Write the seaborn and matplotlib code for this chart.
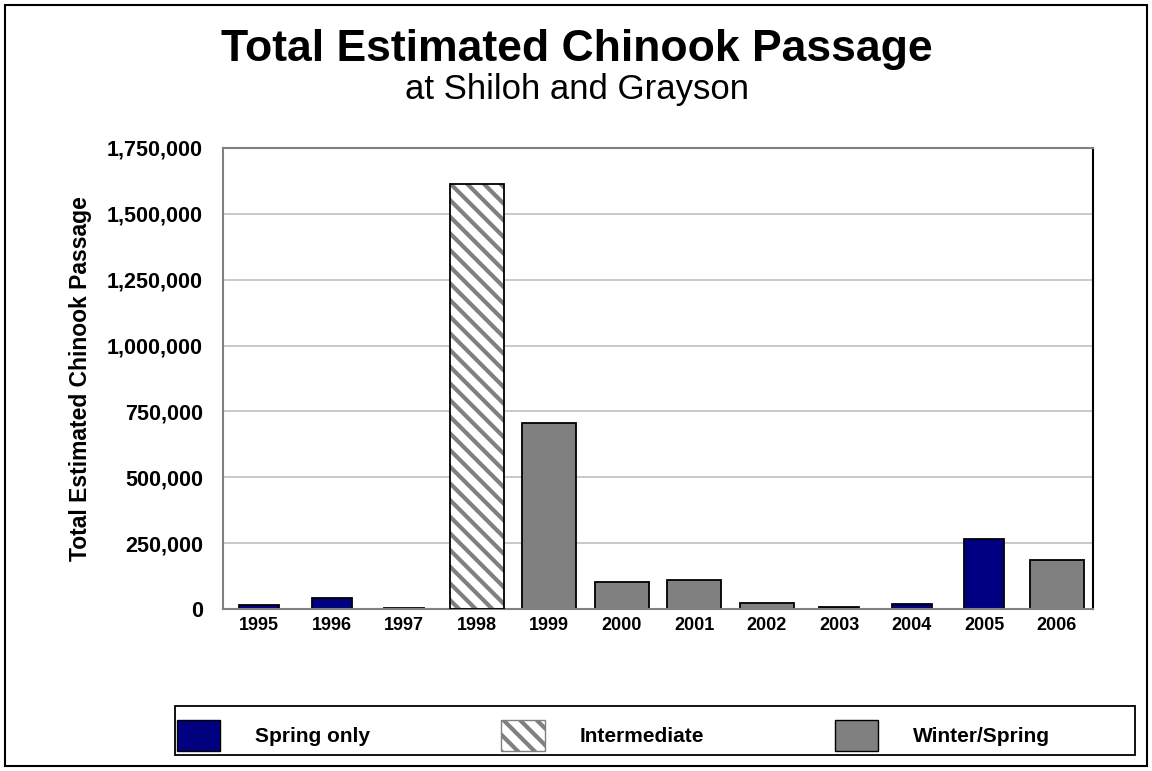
import matplotlib
matplotlib.use("Agg")
import matplotlib.pyplot as plt
import numpy as np
import pandas as pd
import seaborn as sns
from matplotlib.patches import Patch, Rectangle
from matplotlib.ticker import FuncFormatter, MultipleLocator

# Data
years = ["1995", "1996", "1997", "1998", "1999", "2000",
         "2001", "2002", "2003", "2004", "2005", "2006"]
spring_only = [15000, 40000, 3000, 0, 0, 0, 0, 0, 8000, 18000, 265000, 0]
intermediate = [0, 0, 0, 1613000, 0, 0, 0, 0, 0, 0, 0, 0]
winter_spring = [0, 0, 0, 0, 706000, 104000, 110000, 22000, 0, 0, 0, 186000]

series_labels = ["Spring only", "Intermediate", "Winter/Spring"]

NAVY = "#000080"
GRAY = "#808080"

sns.set_style("white")
plt.rcParams["font.family"] = ["Liberation Sans", "DejaVu Sans"]
plt.rcParams["hatch.linewidth"] = 3.0
plt.rcParams["text.color"] = "black"
plt.rcParams["axes.labelcolor"] = "black"
plt.rcParams["xtick.labelcolor"] = "black"
plt.rcParams["ytick.labelcolor"] = "black"

df = pd.DataFrame({
    "year": years,
    "spring": spring_only,
    "inter": intermediate,
    "winter": winter_spring,
})

fig = plt.figure(figsize=(11.52, 7.71), dpi=100)
ax = fig.add_axes([0.1936, 0.2101, 0.7552, 0.598])

# winter/spring (wide gray bars)
sns.barplot(data=df, x="year", y="winter", order=years, color=GRAY,
            saturation=1, width=0.75, edgecolor="black", linewidth=1.3,
            errorbar=None, ax=ax)

# intermediate: hatch drawn with gray edge, then black outline on top
n_before = len(ax.patches)
sns.barplot(data=df, x="year", y="inter", order=years, color="white",
            saturation=1, width=0.75, edgecolor=GRAY, linewidth=0,
            errorbar=None, ax=ax)
for p, v in zip(ax.patches[n_before:], intermediate):
    if v > 0:
        p.set_hatch("\\\\")
        ax.add_patch(Rectangle((p.get_x(), p.get_y()), p.get_width(),
                               p.get_height(), fill=False,
                               edgecolor="black", linewidth=1.3, zorder=3))

# spring only (narrower navy bars, drawn in front)
sns.barplot(data=df, x="year", y="spring", order=years, color=NAVY,
            saturation=1, width=0.55, edgecolor="black", linewidth=1.3,
            errorbar=None, ax=ax)

ax.set_xlim(-0.5, len(years) - 0.5)
ax.set_ylim(0, 1750000)

# y axis
ax.yaxis.set_major_locator(MultipleLocator(250000))
ax.yaxis.set_minor_locator(MultipleLocator(125000))
ax.yaxis.set_major_formatter(FuncFormatter(lambda v, _: f"{int(v):,}"))
ax.tick_params(axis="y", which="both", direction="inout", length=13,
               width=1, color=GRAY, labelsize=15.5, pad=8)
for lab in ax.get_yticklabels():
    lab.set_fontweight("bold")
ax.grid(axis="y", which="major", color="#c0c0c0", linewidth=1.2, zorder=0)
ax.set_axisbelow(True)

# x axis: ticks between categories, labels centered
ax.set_xticks(np.arange(-0.5, len(years), 1.0))
ax.set_xticklabels([])
ax.set_xticks(np.arange(len(years)), minor=True)
ax.set_xticklabels(years, minor=True, fontsize=13, fontweight="bold")
ax.tick_params(axis="x", which="major", direction="inout", length=13,
               width=1, color=GRAY)
ax.tick_params(axis="x", which="minor", length=0, pad=6)
ax.set_xlabel("")

ax.set_ylabel("Total Estimated Chinook Passage", fontsize=16.5,
              fontweight="bold", labelpad=11)

for side in ["left", "bottom", "top"]:
    ax.spines[side].set_color(GRAY)
    ax.spines[side].set_linewidth(1.5)
ax.spines["right"].set_color("black")
ax.spines["right"].set_linewidth(1.5)

# titles
fig.text(0.501, 0.921, "Total Estimated Chinook Passage", ha="center",
         va="baseline", fontsize=32, fontweight="bold")
fig.text(0.501, 0.872, "at Shiloh and Grayson", ha="center",
         va="baseline", fontsize=25)

# legend entries (frame drawn separately to span the full box)
handles = [
    Patch(facecolor=NAVY, edgecolor="black", label=series_labels[0]),
    Patch(facecolor="white", edgecolor=GRAY, hatch="\\\\",
          label=series_labels[1]),
    Patch(facecolor=GRAY, edgecolor="black", label=series_labels[2]),
]
fig.legend(handles=handles, loc="center left",
           bbox_to_anchor=(177 / 1152, 1 - 735.5 / 771),
           ncol=3, frameon=False, borderpad=0, borderaxespad=0,
           handlelength=2.07, handleheight=1.95, handletextpad=1.68,
           columnspacing=6.3, prop={"size": 15, "weight": "bold"})
fig.patches.append(Rectangle((175 / 1152, 1 - 755 / 771), 960 / 1152,
                             49.3 / 771, fill=False, edgecolor="black",
                             linewidth=1.3, transform=fig.transFigure,
                             figure=fig))

# outer border of the figure
fig.patches.append(Rectangle((0.004, 0.006), 0.992, 0.988, fill=False,
                             edgecolor="black", linewidth=1.5,
                             transform=fig.transFigure, figure=fig))

fig.savefig("out.png", dpi=100)
